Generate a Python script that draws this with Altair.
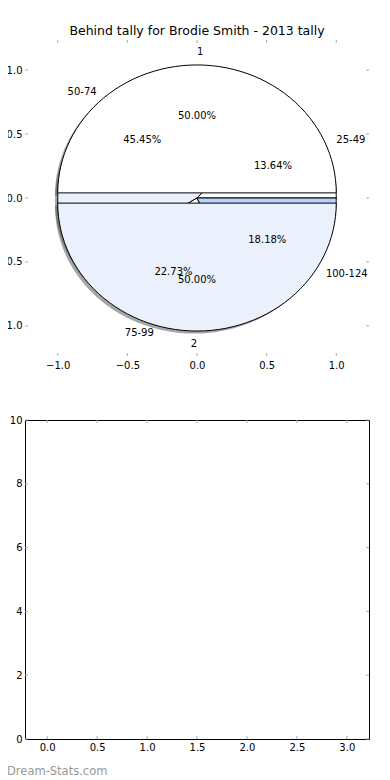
import altair as alt
import pandas as pd

TITLE = "Behind tally for Brodie Smith - 2013 tally"
WATERMARK = "Dream-Stats.com"

# inner pie (tally bands)
inner_labels = ["25-49", "50-74", "75-99", "100-124"]
inner_counts = [3, 10, 5, 4]
inner_colors = ["#ffffff", "#eaf0fc", "#ffffff", "#b4d2f5"]

# outer pie (1 / 2)
outer_labels = ["1", "2"]
outer_counts = [11, 11]
outer_colors = ["#ffffff", "#eaf0fc"]
outer_explode = [0.04, 0.04]

pie_ticks = [-1.0, -0.5, 0.0, 0.5, 1.0]
bar_xticks = [0.0, 0.5, 1.0, 1.5, 2.0, 2.5, 3.0]
bar_yticks = [0, 2, 4, 6, 8, 10]

PIE_LIM = 1.235
BAR_X = [-0.222, 3.222]
BAR_Y = [0, 10]

W1, H1 = 344, 316
W2, H2 = 344, 319
TICKC = "#aaaaaa"
FONT = "DejaVu Sans"

rows = []
for i, (n, v, c) in enumerate(zip(inner_labels, inner_counts, inner_colors)):
    rows.append(dict(pie="inner", idx=i, name=n, value=v, color=c, explode=0.0))
for i, (n, v, c, e) in enumerate(zip(outer_labels, outer_counts, outer_colors, outer_explode)):
    rows.append(dict(pie="outer", idx=i, name=n, value=v, color=c, explode=e))
wedges = pd.DataFrame(rows)
wedges["key"] = wedges["pie"] + ":" + wedges["name"]

sx = alt.Scale(domain=[-PIE_LIM, PIE_LIM], nice=False, zero=False)
sy = alt.Scale(domain=[-PIE_LIM, PIE_LIM], nice=False, zero=False)
ax_x = alt.Axis(values=pie_ticks, format=".1f", ticks=False, domain=False, grid=False,
                labelPadding=4, title=None)
ax_y = alt.Axis(values=pie_ticks, labelExpr="format(abs(datum.value), '.1f')", ticks=False,
                domain=False, grid=False, labelPadding=3, title=None)


def PX(f):
    return alt.X(f, type="quantitative", scale=sx, axis=ax_x)


def PY(f):
    return alt.Y(f, type="quantitative", scale=sy, axis=ax_y)


base = alt.Chart(wedges).transform_joinaggregate(
    total="sum(value)", groupby=["pie"]
).transform_window(
    cum="sum(value)", groupby=["pie"], sort=[alt.SortField("idx")], frame=[None, 0]
).transform_calculate(
    a0="2*PI*(datum.cum - datum.value)/datum.total",
    a1="2*PI*datum.cum/datum.total",
    mid="(datum.a0 + datum.a1)/2",
    cx="datum.explode*cos(datum.mid)",
    cy="datum.explode*sin(datum.mid)",
)

poly = base.transform_calculate(k="sequence(0, 63)").transform_flatten(["k"]).transform_calculate(
    frac="clamp((datum.k - 1)/60, 0, 1)",
    rr="(datum.k == 0 || datum.k == 62) ? 0 : 1",
    ang="datum.a0 + datum.frac*(datum.a1 - datum.a0)",
    px="datum.cx + datum.rr*cos(datum.ang)",
    py="datum.cy + datum.rr*sin(datum.ang)",
    sxp="datum.px - 0.02",
    syp="datum.py - 0.02",
)

shadow = poly.mark_line(fill="#4d4d4d", fillOpacity=0.5, strokeOpacity=0).encode(
    x=PX("sxp"), y=PY("syp"), detail="key:N", order="k:Q"
)
inner = poly.transform_filter("datum.pie == 'inner'").mark_line(stroke="black", strokeWidth=1).encode(
    x=PX("px"), y=PY("py"), fill=alt.Fill("color:N", scale=None), detail="key:N", order="k:Q"
)
outer = poly.transform_filter("datum.pie == 'outer'").mark_line(stroke="black", strokeWidth=1).encode(
    x=PX("px"), y=PY("py"), fill=alt.Fill("color:N", scale=None), detail="key:N", order="k:Q"
)

lab = base.transform_calculate(
    lx="datum.cx + 1.1*cos(datum.mid)",
    ly="datum.cy + 1.1*sin(datum.mid)",
    tx="datum.cx + 0.6*cos(datum.mid)",
    ty="datum.cy + 0.6*sin(datum.mid)",
    pct="format(100*datum.value/datum.total, '.2f') + '%'",
)
txt = dict(font=FONT, fontSize=10, color="black", baseline="middle")
lab_l = lab.transform_filter("datum.lx > 0").mark_text(align="left", **txt).encode(
    x=PX("lx"), y=PY("ly"), text="name:N")
lab_r = lab.transform_filter("datum.lx <= 0").mark_text(align="right", **txt).encode(
    x=PX("lx"), y=PY("ly"), text="name:N")
pct_t = lab.mark_text(align="center", **txt).encode(x=PX("tx"), y=PY("ty"), text="pct:N")

ptick = pd.DataFrame({"v": pie_ticks})
pt = alt.Chart(ptick).mark_rule(color=TICKC, strokeWidth=1)
pt_top = pt.encode(x=PX("v"), y=alt.value(0), y2=alt.value(3))
pt_bot = pt.encode(x=PX("v"), y=alt.value(H1 - 3), y2=alt.value(H1))
pt_left = pt.encode(y=PY("v"), x=alt.value(0), x2=alt.value(3))
pt_right = pt.encode(y=PY("v"), x=alt.value(W1 - 3), x2=alt.value(W1))

top = alt.layer(
    pt_top, pt_bot, pt_left, pt_right, shadow, inner, outer, lab_l, lab_r, pct_t
).properties(
    width=W1, height=H1,
    title=alt.Title(TITLE, fontSize=12.5, font=FONT, fontWeight="normal", color="black",
                    anchor="middle", offset=2),
    view=alt.ViewBackground(strokeOpacity=0),
)

# bottom (empty) panel
bxs = alt.Scale(domain=BAR_X, nice=False, zero=False)
bys = alt.Scale(domain=BAR_Y, nice=False, zero=False)
bax_x = alt.Axis(values=bar_xticks, format=".1f", ticks=False, domain=False, grid=False,
                 labelPadding=3, title=None)
bax_y = alt.Axis(values=bar_yticks, format="d", ticks=False, domain=False, grid=False,
                 labelPadding=3, title=None)
bx_df = pd.DataFrame({"v": bar_xticks})
by_df = pd.DataFrame({"v": bar_yticks})
bt = dict(color=TICKC, strokeWidth=1)
b_top = alt.Chart(bx_df).mark_rule(**bt).encode(
    x=alt.X("v:Q", scale=bxs, axis=bax_x), y=alt.value(0), y2=alt.value(3))
b_bot = alt.Chart(bx_df).mark_rule(**bt).encode(
    x=alt.X("v:Q", scale=bxs, axis=bax_x), y=alt.value(H2 - 3), y2=alt.value(H2))
b_left = alt.Chart(by_df).mark_rule(**bt).encode(
    y=alt.Y("v:Q", scale=bys, axis=bax_y), x=alt.value(0), x2=alt.value(3))
b_right = alt.Chart(by_df).mark_rule(**bt).encode(
    y=alt.Y("v:Q", scale=bys, axis=bax_y), x=alt.value(W2 - 3), x2=alt.value(W2))
wm = alt.Chart(pd.DataFrame({"t": [WATERMARK]})).mark_text(
    align="left", baseline="middle", font=FONT, fontSize=11.5, color="#999999"
).encode(text="t:N", x=alt.value(-18), y=alt.value(H2 + 33))

bottom = alt.layer(b_top, b_bot, b_left, b_right, wm).properties(
    width=W2, height=H2,
    view=alt.ViewBackground(stroke="black", strokeWidth=1),
)

chart = alt.vconcat(top, bottom, spacing=44).properties(
    padding={"left": -2, "top": 17, "right": 0, "bottom": 0}
).configure_axis(
    labelFont=FONT, labelFontSize=10, labelColor="black"
).configure_view(stroke="transparent")

chart.save("out.html", embed_options={"renderer": "svg", "actions": False})
